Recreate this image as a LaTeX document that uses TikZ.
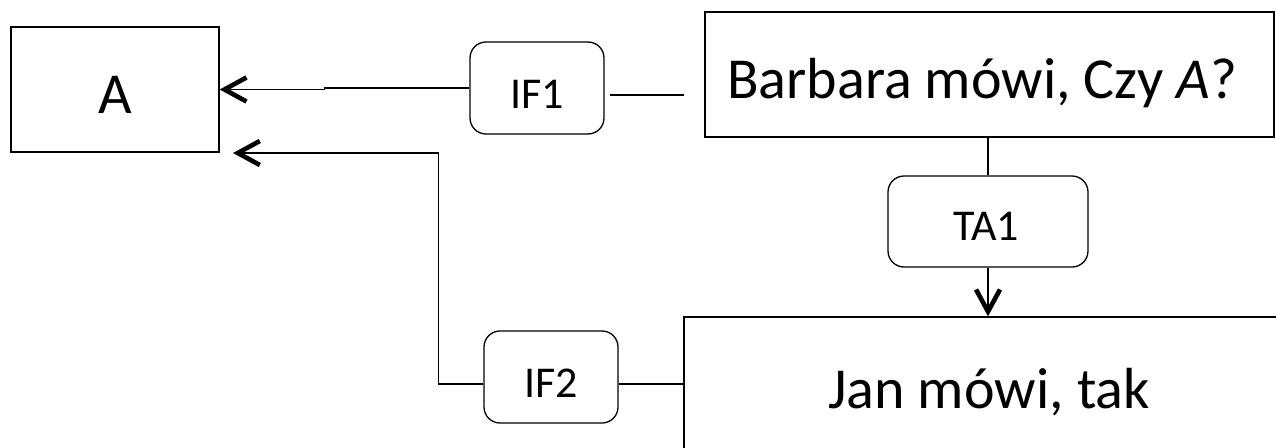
\documentclass[tikz,border=0pt]{standalone}
\usepackage{fontspec}
\setmainfont{Carlito}
\usetikzlibrary{arrows.meta,calc}
\begin{document}
\begin{tikzpicture}[x=1pt,y=-1pt,
  box/.style={draw, line width=1.3pt, rectangle, inner sep=0pt},
  rbox/.style={draw, line width=1.3pt, rounded corners=16pt, inner sep=0pt, minimum width=134pt, minimum height=92pt},
  big/.style={font=\fontsize{58}{62}\selectfont, inner sep=0pt},
  lab/.style={font=\fontsize{44}{48}\selectfont, inner sep=0pt},
  conn/.style={line width=1.1pt},
  chev/.style={-{Straight Barb[length=22pt,width=24pt,line width=4.6pt 0 1,sharp]}},
]
\useasboundingbox (0,0) rectangle (1276,447);
\clip (0,0) rectangle (1276,447);
\fill[white] (0,0) rectangle (1276,447);
% boxes
\node[box, minimum width=208pt, minimum height=125pt] (A) at (115,89.5) {};
\node[box, minimum width=569pt, minimum height=125pt] (B) at (989.5,74.5) {};
\node[box, minimum width=608pt, minimum height=153pt] (J) at (988,393.5) {};
\node[rbox] (IF1) at (537,88) {};
\node[rbox] (IF2) at (551,377) {};
\node[rbox, minimum width=200pt, minimum height=91pt] (TA1) at (988,221.5) {};
% texts
\node[big, anchor=base] (At) at (115,113) {A};
\node[big, anchor=base west] (Bt) at (727,98) {Barbara mówi, Czy \textit{A}?};
\node[big, anchor=base] (Jt) at (989,408) {Jan mówi, tak};
\node[lab, anchor=base] (IF1t) at (537,108) {IF1};
\node[lab, anchor=base] (IF2t) at (551,397) {IF2};
\node[lab, anchor=base] (TA1t) at (986,240) {TA1};
% connectors
\coordinate (t2) at (233,153);
\draw[conn,chev] (IF1.west) -- ++(-145,0) |- (A.east);
\draw[conn,chev] ([yshift=-7pt]IF2.west) -- ++(-45,0) |- (t2);
\draw[conn] (TA1.north |- B.south) -- (TA1.north);
\draw[conn,chev] (TA1.south) -- (TA1.south |- J.north);
\draw[conn, shorten <=5pt, shorten >=20pt] ([yshift=-7pt]IF1.east) -- ([yshift=-7pt]IF1.east -| B.west);
\draw[conn] ([yshift=-7pt]IF2.east) -- ([yshift=-7pt]IF2.east -| J.west);
\end{tikzpicture}
\end{document}
